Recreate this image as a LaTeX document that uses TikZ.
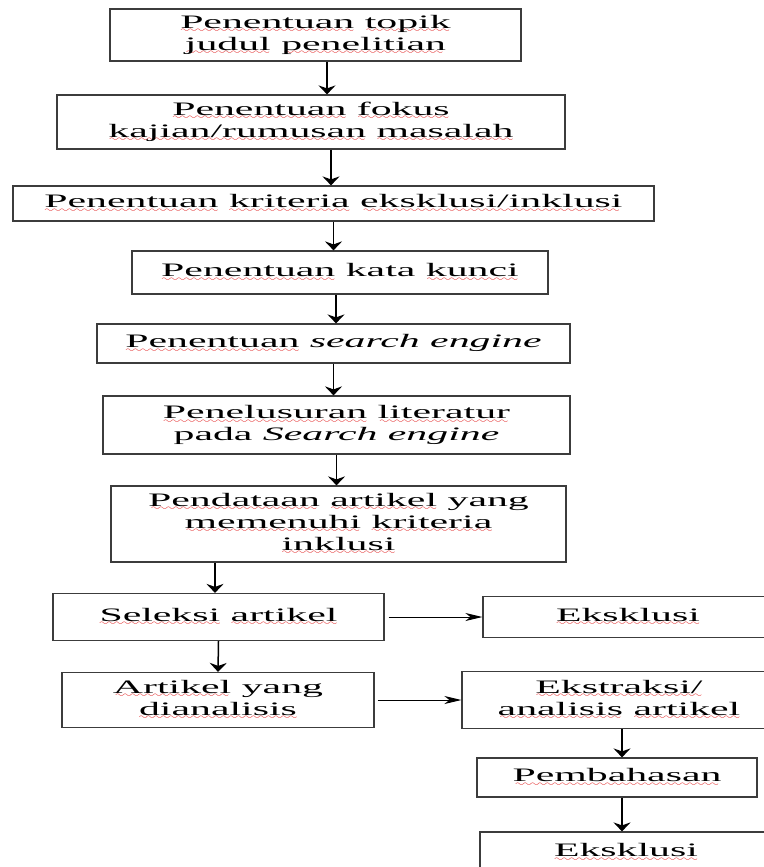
\documentclass[tikz,border=0pt]{standalone}
\usepackage{fontspec}
\setmainfont{Liberation Serif}[FakeStretch=2.2]
\usetikzlibrary{arrows.meta}
\definecolor{garis}{RGB}{60,60,60}
\definecolor{salahmerah}{RGB}{225,35,35}
\font\ombak=lasy6 at 9pt
% garis bergelombang merah di bawah kata
\newcommand{\salah}[1]{\setbox0=\hbox{#1}\rlap{\textcolor{salahmerah}{\lower4.5pt\hbox to \wd0{\cleaders\hbox{\ombak\char58}\hfill}}}\box0\relax}

\begin{document}
\begin{tikzpicture}[x=1pt, y=-1pt,
    kotak/.style={draw=garis, line width=1.2pt, rectangle, align=center, inner sep=0pt, font=\fontsize{19}{22}\selectfont},
    panah/.style={-{Stealth[length=9pt, width=17pt, inset=3pt]}, line width=1.5pt},
    panahkanan/.style={-{Stealth[length=17pt, width=8pt, inset=5pt]}, line width=1pt}]
    \useasboundingbox (0,0) rectangle (763,867);
    % alur utama
    \node[kotak, minimum width=411pt, minimum height=52pt] (topik) at (315.5,35) {\salah{Penentuan} \salah{topik}\\ \salah{judul} \salah{penelitian}};
    \node[kotak, minimum width=508pt, minimum height=54pt] (fokus) at (311,122) {\salah{Penentuan} \salah{fokus}\\ \salah{kajian/rumusan} \salah{masalah}};
    \node[kotak, minimum width=641pt, minimum height=35pt] (kriteria) at (333.5,203.5) {\salah{Penentuan} \salah{kriteria} \salah{eksklusi/inklusi}};
    \node[kotak, minimum width=416pt, minimum height=43pt] (katakunci) at (340,272.5) {\salah{Penentuan} kata \salah{kunci}};
    \node[kotak, minimum width=473pt, minimum height=39pt] (mesin) at (333.5,343.5) {\salah{Penentuan} \textit{search engine}};
    \node[kotak, minimum width=467pt, minimum height=58pt] (telusur) at (336.5,425) {\salah{Penelusuran} \salah{literatur}\\ pada \textit{Search engine}};
    \node[kotak, minimum width=455pt, minimum height=76pt] (data) at (338.5,524) {\salah{Pendataan} \salah{artikel} yang\\ \salah{memenuhi} \salah{kriteria}\\ \salah{inklusi}};
    \node[kotak, minimum width=331pt, minimum height=47pt] (seleksi) at (218.5,617) {\salah{Seleksi} \salah{artikel}};
    \node[kotak, minimum width=312pt, minimum height=55pt] (analisis) at (218,700) {\salah{Artikel} yang\\ \salah{dianalisis}};
    % cabang kanan
    \node[kotak, minimum width=290pt, minimum height=41pt] (eksklusi) at (628,617) {\salah{Eksklusi}};
    \node[kotak, minimum width=314pt, minimum height=57pt] (ekstraksi) at (619,700) {\salah{Ekstraksi/}\\ \salah{analisis} \salah{artikel}};
    \node[kotak, minimum width=280pt, minimum height=39pt] (bahas) at (617,777.5) {\salah{Pembahasan}};
    \node[kotak, minimum width=292pt, minimum height=41pt] (eksklusibawah) at (626,852.5) {\salah{Eksklusi}};

    \draw[panah] ([xshift=11.5pt]topik.south) -- ([xshift=11.5pt]topik.south |- fokus.north);
    \draw[panah] ([xshift=20pt]fokus.south) -- ([xshift=20pt]fokus.south |- kriteria.north);
    \draw[panah] (kriteria.south) -- (kriteria.south |- katakunci.north);
    \draw[panah] ([xshift=-4pt]katakunci.south) -- ([xshift=-4pt]katakunci.south |- mesin.north);
    \draw[panah] (mesin.south) -- (mesin.south |- telusur.north);
    \draw[panah] (telusur.south) -- (telusur.south |- data.north);
    \draw[panah] ([xshift=-3.5pt]seleksi.north |- data.south) -- ([xshift=-3.5pt]seleksi.north);
    \draw[panah] (seleksi.south) -- (analisis.north);
    \draw[panahkanan, shorten <=4pt] (seleksi.east) -- (eksklusi.west);
    \draw[panahkanan, shorten <=3pt] (analisis.east) -- (ekstraksi.west);
    \draw[panah] ([xshift=3pt]ekstraksi.south) -- ([xshift=3pt]ekstraksi.south |- bahas.north);
    \draw[panah] ([xshift=5pt]bahas.south) -- ([xshift=5pt]bahas.south |- eksklusibawah.north);
\end{tikzpicture}
\end{document}
